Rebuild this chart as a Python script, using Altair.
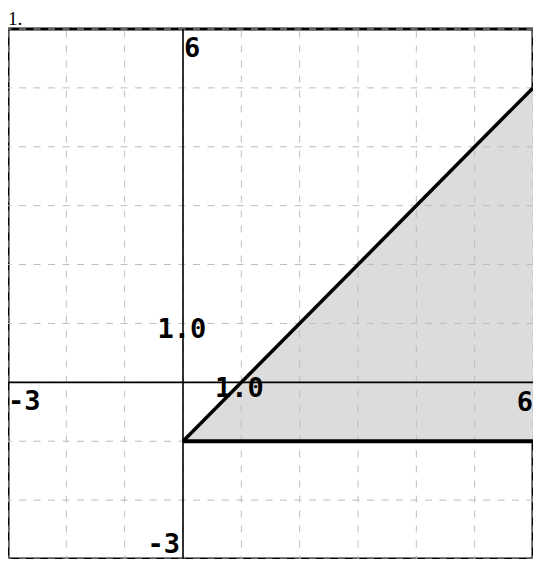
import altair as alt
import pandas as pd

title_text = ["1."]

# grid positions (both axes)
x_ticks = [-3, -2, -1, 0, 1, 2, 3, 4, 5, 6]
y_ticks = [-3, -2, -1, 0, 1, 2, 3, 4, 5, 6]

# boundary line y = x - 1 and the lower boundary y = -1
line_x = [0, 6]
line_y = [-1, 5]
floor_y = [-1, -1]

# labels
label_text = ["6", "-3", "-3", "6", "1.0", "1.0"]
label_x = [0, 0, -3, 6, 0, 1]
label_y = [6, -3, 0, 0, 1, 0]

X = alt.Scale(domain=[-3, 6], nice=False, zero=False)
Y = alt.Scale(domain=[-3, 6], nice=False, zero=False)

region = pd.DataFrame({"x": line_x, "y": line_y, "y2": floor_y})
area = alt.Chart(region).mark_area(color="#dcdcdc", opacity=1).encode(
    x=alt.X("x:Q", scale=X, axis=None),
    y=alt.Y("y:Q", scale=Y, axis=None),
    y2="y2:Q",
)

vgrid = alt.Chart(pd.DataFrame({"x": x_ticks, "lo": -3, "hi": 6})).mark_rule(
    color="#bdbdbd", strokeWidth=1, strokeDash=[7, 8], strokeDashOffset=3.5
).encode(x=alt.X("x:Q", scale=X), y=alt.Y("lo:Q", scale=Y), y2="hi:Q")

hgrid = alt.Chart(pd.DataFrame({"y": y_ticks, "lo": -3, "hi": 6})).mark_rule(
    color="#bdbdbd", strokeWidth=1, strokeDash=[7, 7.5], strokeDashOffset=3.5
).encode(y=alt.Y("y:Q", scale=Y), x=alt.X("lo:Q", scale=X), x2="hi:Q")

yaxis = alt.Chart(pd.DataFrame({"x": [0], "lo": [-3], "hi": [6]})).mark_rule(
    color="black", strokeWidth=1.6
).encode(x=alt.X("x:Q", scale=X), y=alt.Y("lo:Q", scale=Y), y2="hi:Q")

xaxis = alt.Chart(pd.DataFrame({"y": [0], "lo": [-3], "hi": [6]})).mark_rule(
    color="black", strokeWidth=1.6
).encode(y=alt.Y("y:Q", scale=Y), x=alt.X("lo:Q", scale=X), x2="hi:Q")

diag = alt.Chart(pd.DataFrame({"x": line_x, "y": line_y})).mark_line(
    color="black", strokeWidth=3.5
).encode(x=alt.X("x:Q", scale=X), y=alt.Y("y:Q", scale=Y))

floor = alt.Chart(pd.DataFrame({"x": line_x, "y": floor_y})).mark_line(
    color="black", strokeWidth=4
).encode(x=alt.X("x:Q", scale=X), y=alt.Y("y:Q", scale=Y))

# per-label placement
placement = [
    dict(align="left", baseline="top", dx=1, dy=7),
    dict(align="right", baseline="bottom", dx=-3, dy=0),
    dict(align="left", baseline="top", dx=0, dy=7),
    dict(align="right", baseline="top", dx=0, dy=8),
    dict(align="center", baseline="alphabetic", dx=-1, dy=15),
    dict(align="center", baseline="alphabetic", dx=-2, dy=15),
]

texts = []
for i, t in enumerate(label_text):
    df = pd.DataFrame({"t": [t], "x": [label_x[i]], "y": [label_y[i]]})
    p = placement[i]
    texts.append(
        alt.Chart(df).mark_text(
            font="DejaVu Sans Mono", fontWeight="bold", fontSize=27,
            color="black", **p
        ).encode(x=alt.X("x:Q", scale=X), y=alt.Y("y:Q", scale=Y), text="t:N")
    )

# chart caption "1." above the frame
caption = alt.Chart(pd.DataFrame({"t": title_text})).mark_text(
    font="Liberation Serif", fontSize=19, color="black",
    align="left", baseline="alphabetic",
).encode(x=alt.value(0), y=alt.value(-4), text="t:N")

chart = alt.layer(
    area, vgrid, hgrid, yaxis, xaxis, diag, floor, *texts, caption
).properties(
    width=525,
    height=530,
    autosize=alt.AutoSizeParams(type="none"),
    padding={"top": 21, "left": 0, "right": 0, "bottom": 0},
).configure_view(stroke="black", strokeWidth=3)

chart.save("out.html", embed_options={"renderer": "svg", "actions": False})
